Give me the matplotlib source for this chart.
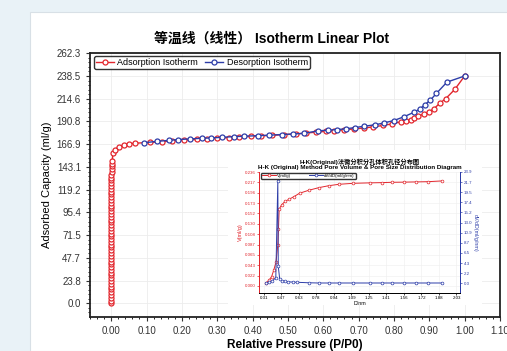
import numpy as np
import matplotlib
matplotlib.use("Agg")
import matplotlib.pyplot as plt
from matplotlib.patches import Rectangle
from matplotlib.ticker import AutoMinorLocator

plt.rcParams['font.family'] = ['Liberation Sans', 'Noto Sans CJK SC', 'DejaVu Sans']

RED = "#e2262d"
BLUE = "#2d3da8"

# --- main isotherm (P/P0, ml/g) ---
ads_p = [0.0, 0.0, 0.0, 0.0, 0.0, 0.0, 0.0, 0.0, 0.0, 0.0, 0.0, 0.0, 0.0, 0.0,
         0.0, 0.0, 0.0, 0.0, 0.0, 0.0, 0.0, 0.0, 0.0, 0.0, 0.0, 0.0, 0.0, 0.0,
         0.0, 0.0, 0.0, 0.0, 0.0, 0.0, 0.0, 0.0, 0.0, 0.0, 0.0, 0.0, 0.0, 0.0,
         0.0, 0.0005, 0.0005, 0.0005, 0.0008, 0.001, 0.001, 0.0015, 0.002, 0.003,
         0.005, 0.011, 0.021, 0.035, 0.049, 0.068, 0.11, 0.144, 0.172, 0.205,
         0.243, 0.272, 0.30, 0.333, 0.362, 0.395, 0.423, 0.456, 0.49, 0.522,
         0.551, 0.579, 0.607, 0.631, 0.66, 0.688, 0.716, 0.74, 0.768, 0.794,
         0.82, 0.835, 0.847, 0.858, 0.869, 0.885, 0.898, 0.913, 0.929, 0.946,
         0.972, 1.0]
ads_v = [0.0, 2.9, 5.8, 8.8, 11.7, 14.6, 17.6, 20.5, 23.4, 26.4, 29.3, 32.2, 35.1, 38.1,
         41.0, 43.9, 46.9, 49.8, 52.7, 55.7, 58.6, 61.5, 64.4, 67.4, 70.3, 73.2, 76.2, 79.1,
         82.0, 85.0, 87.9, 90.8, 93.7, 96.7, 99.6, 102.5, 105.5, 108.4, 111.3, 114.3, 117.2, 120.1,
         123.0, 126.0, 128.9, 131.8, 134.8, 137.7, 140.6, 143.6, 146.5, 149.4,
         157.8, 161.3, 164.1, 166.2, 167.4, 168.0, 168.8, 169.6, 170.3, 171.1,
         172.0, 172.6, 173.3, 173.9, 174.6, 175.2, 175.7, 176.3, 177.0, 177.7,
         178.6, 179.6, 180.4, 181.2, 182.0, 183.0, 184.0, 185.0, 186.6, 188.2,
         190.5, 191.5, 192.8, 194.6, 196.3, 198.8, 200.9, 204.1, 209.7, 214.6,
         224.4, 238.5]

des_p = [1.0, 0.95, 0.92, 0.903, 0.887, 0.874, 0.857, 0.828, 0.80, 0.773,
         0.747, 0.715, 0.69, 0.664, 0.639, 0.612, 0.586, 0.546, 0.513, 0.482,
         0.447, 0.414, 0.376, 0.347, 0.314, 0.283, 0.257, 0.224, 0.188, 0.163,
         0.13, 0.092]
des_v = [238.5, 232.1, 220.2, 213.2, 208.3, 204.1, 200.5, 195.7, 191.8, 189.4,
         187.3, 185.8, 184.4, 183.1, 182.3, 181.6, 181.0, 178.4, 177.6, 177.1,
         176.4, 175.9, 175.3, 174.9, 174.2, 173.5, 173.2, 172.5, 171.8, 170.9,
         170.0, 168.4]

y_tick_labels = ["0.0", "23.8", "47.7", "71.5", "95.4", "119.2", "143.1",
                 "166.9", "190.8", "214.6", "238.5", "262.3"]
x_tick_labels = ["0.00", "0.10", "0.20", "0.30", "0.40", "0.50", "0.60",
                 "0.70", "0.80", "0.90", "1.00", "1.10"]

# --- inset: H-K pore size distribution ---
hk_d = [0.328, 0.357, 0.38, 0.40, 0.42, 0.436, 0.442, 0.448, 0.47, 0.50,
        0.54, 0.58, 0.63, 0.71, 0.80, 0.89, 0.98, 1.11, 1.255, 1.365,
        1.455, 1.56, 1.67, 1.78, 1.90]
hk_v = [0.0056, 0.012, 0.019, 0.033, 0.050, 0.085, 0.119, 0.159, 0.168, 0.175,
        0.180, 0.185, 0.192, 0.198, 0.2035, 0.2076, 0.2105, 0.2126, 0.2135, 0.214,
        0.2147, 0.215, 0.2155, 0.216, 0.2175]
hk_dd = [0.328, 0.357, 0.388, 0.418, 0.436, 0.440, 0.453, 0.474, 0.50, 0.53,
         0.57, 0.61, 0.71, 0.80, 0.89, 0.98, 1.11, 1.255, 1.365, 1.455,
         1.56, 1.67, 1.78, 1.90]
hk_dvdd = [0.1, 0.2, 0.5, 1.2, 22.0, 3.6, 0.9, 0.5, 0.4, 0.3,
           0.25, 0.2, 0.1, 0.05, 0.05, 0.05, 0.05, 0.05, 0.05, 0.05,
           0.05, 0.05, 0.05, 0.05]
hk_x_labels = ["0.31", "0.47", "0.63", "0.78", "0.94", "1.09", "1.25",
               "1.41", "1.56", "1.72", "1.88", "2.03"]
hk_v_labels = ["0.000", "0.022", "0.043", "0.065", "0.087", "0.108",
               "0.130", "0.152", "0.173", "0.196", "0.217", "0.236"]
hk_dv_labels = ["0.0", "2.2", "4.3", "6.5", "8.7", "10.9",
                "13.0", "15.2", "17.4", "19.5", "21.7", "23.9"]

W, H = 507, 351
fig = plt.figure(figsize=(W / 100, H / 100), dpi=100, facecolor="#e9f2f7")
fig.patches.append(Rectangle((30 / W, 0), 1, 1 - 12 / H, transform=fig.transFigure,
                             facecolor="white", edgecolor="#d8e0e6", lw=0.8, zorder=-1))

ax = fig.add_axes([90 / W, 1 - 316.7 / H, 410 / W, (316.7 - 53.3) / H])
ax.plot(ads_p, ads_v, color=RED, lw=1.0, marker="o", ms=3.6, mfc="white",
        mec=RED, mew=0.9, label="Adsorption Isotherm")
ax.plot(des_p, des_v, color=BLUE, lw=1.0, marker="o", ms=3.6, mfc="white",
        mec=BLUE, mew=0.9, label="Desorption Isotherm")
ax.set_xlim(-0.06, 1.10)
ax.set_ylim(-14, 262.3)
ax.set_xticks(np.linspace(0, 1.1, 12))
ax.set_xticklabels(x_tick_labels)
ax.set_yticks(np.linspace(0, 262.3, 12))
ax.set_yticklabels(y_tick_labels)
ax.xaxis.set_minor_locator(AutoMinorLocator(5))
ax.yaxis.set_minor_locator(AutoMinorLocator(5))
ax.tick_params(labelsize=7, colors="#333333", length=3, width=0.8)
ax.tick_params(which="minor", length=1.5, width=0.6)
ax.grid(True, color="#ececec", lw=0.6)
for s in ax.spines.values():
    s.set_linewidth(1.3)
    s.set_color("#222222")
ax.set_xlabel("Relative Pressure (P/P0)", fontsize=8.5, fontweight="bold", labelpad=2)
ax.set_ylabel("Adsorbed Capacity (ml/g)", fontsize=8, labelpad=3)
ax.legend(loc="upper left", ncol=2, fontsize=6.5, frameon=True, fancybox=True,
          edgecolor="black", borderpad=0.2, handlelength=2.0, columnspacing=0.8,
          handletextpad=0.4, bbox_to_anchor=(0.005, 0.995), borderaxespad=0.2)
fig.text(272 / W, 1 - 39 / H, "等温线（线性） Isotherm Linear Plot", ha="center",
         va="center", fontsize=10, fontweight="bold")

# white panel behind the inset chart
fig.patches.append(Rectangle((228 / W, 1 - 305 / H), 254 / W, 155 / H,
                             transform=fig.transFigure, facecolor="white",
                             edgecolor="none", zorder=1))

ins = fig.add_axes([259 / W, 1 - 293 / H, 201 / W, 121 / H], zorder=3)
ins.plot(hk_d, hk_v, color=RED, lw=0.7, marker="o", ms=2.0, mfc="white",
         mec=RED, mew=0.5, label="V(ml/g)")
ins.set_xlim(0.268, 2.0625)
ins.set_ylim(-0.0145, 0.236)
ins.set_xticks(np.linspace(0.3125, 2.03125, 12))
ins.set_xticklabels(hk_x_labels)
ins.set_yticks(np.linspace(0, 0.236, 12))
ins.set_yticklabels(hk_v_labels)
ins.tick_params(labelsize=3.2, length=1.5, width=0.5, pad=1)
ins.tick_params(axis="y", colors=RED)
ins.grid(True, color="#eeeeee", lw=0.4)
ins.spines["top"].set_visible(False)
ins.spines["left"].set_color(RED)
ins.spines["right"].set_color(BLUE)
ins.spines["bottom"].set_color("#444444")
for s in ins.spines.values():
    s.set_linewidth(0.7)
ins.set_xlabel("D/nm", fontsize=3.8, labelpad=0.5)
ins.set_ylabel("V(ml/g)", fontsize=4, color=RED, labelpad=1)

ins2 = ins.twinx()
ins2.plot(hk_dd, hk_dvdd, color=BLUE, lw=0.7, marker="o", ms=2.0, mfc="white",
          mec=BLUE, mew=0.5, label="dV/dD(ml/g/nm)")
ins2.set_ylim(-2.1, 23.9)
ins2.set_yticks(np.linspace(0, 23.9, 12))
ins2.set_yticklabels(hk_dv_labels)
ins2.tick_params(labelsize=3.2, length=1.5, width=0.5, pad=1, colors=BLUE)
ins2.spines["top"].set_visible(False)
ins2.spines["right"].set_color(BLUE)
ins2.spines["left"].set_color(RED)
for s in ins2.spines.values():
    s.set_linewidth(0.7)
ins2.set_ylabel("dV/dD(ml/g/nm)", fontsize=3.8, color=BLUE, rotation=270, labelpad=4)

h1, l1 = ins.get_legend_handles_labels()
h2, l2 = ins2.get_legend_handles_labels()
ins2.legend(h1 + h2, l1 + l2, loc="upper left", ncol=2, fontsize=3.2, frameon=True,
            fancybox=True, edgecolor="black", borderpad=0.2, handlelength=3.0,
            columnspacing=4.0, handletextpad=0.4, bbox_to_anchor=(0.01, 0.995),
            borderaxespad=0.1)
ins.set_title("H-K(Original)法微分积分孔体积孔径分布图\n"
              "H-K (Original) Method Pore Volume & Pore Size Distribution Diagram",
              fontsize=4.5, fontweight="bold", pad=2, linespacing=1.1)

fig.savefig("out.png", dpi=100, facecolor=fig.get_facecolor())
